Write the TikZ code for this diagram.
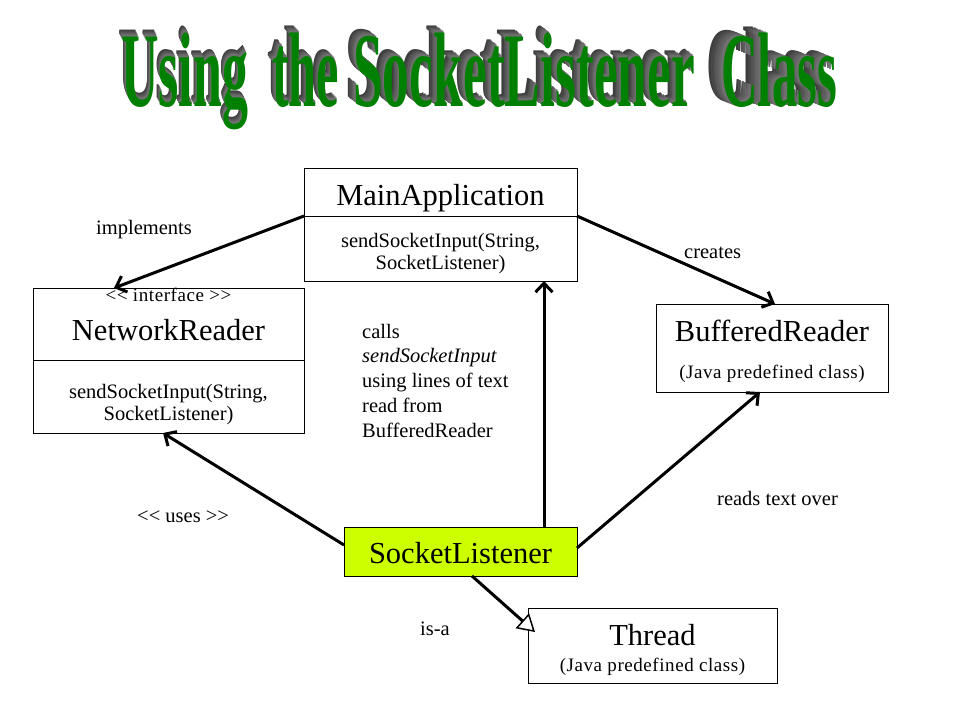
\documentclass[tikz,border=0pt]{standalone}
\usepackage{fontspec}
\setmainfont{Liberation Serif}
\newfontfamily\spfont{Liberation Serif}[LetterSpace=3]
\usetikzlibrary{arrows.meta,calc}
\definecolor{titlegreen}{RGB}{0,128,0}
\definecolor{slfill}{RGB}{204,255,0}
\tikzset{
 box/.style={draw=black, line width=1pt, inner sep=0pt, outer sep=0pt, anchor=north west},
 bigtxt/.style={inner sep=0pt, anchor=base, font=\fontsize{30.5}{36}\selectfont},
 medtxt/.style={inner sep=0pt, anchor=base, font=\fontsize{20.5}{24}\selectfont},
 smalltxt/.style={inner sep=0pt, anchor=base, font=\spfont\fontsize{19}{22}\selectfont},
 lbl/.style={inner sep=0pt, anchor=base west, font=\fontsize{20.5}{24}\selectfont},
 conn/.style={line width=3pt, -{Straight Barb[length=9pt,width=17pt]}},
 isa/.style={line width=3pt, -{Triangle[open,fill=white,length=17pt,width=20pt,line width=1.5pt]}},
 ttl/.style={inner sep=0pt, anchor=base west, font=\fontsize{106}{106}\selectfont\bfseries},
}
% one word of the 3-D title: #1 dx, #2 dy (up), #3 horizontal scale, #4 text
\newcommand\tword[4]{%
  \foreach \k in {6,5,...,1}{%
    \pgfmathsetmacro\ox{#1*\k/6}%
    \pgfmathsetmacro\oy{#2*\k/6}%
    \pgfmathtruncatemacro\shd{52+4*\k}%
    \rlap{\hspace{\ox pt}\raisebox{\oy pt}{\color{black!\shd}\scalebox{#3}[1]{#4}}}%
  }%
  \textcolor{titlegreen}{\scalebox{#3}[1]{#4}}%
}
\begin{document}
\begin{tikzpicture}[x=1pt,y=-1pt]
\useasboundingbox (0,0) rectangle (960,720);
% title
\node[ttl] (tUsing) at (121,106) {\tword{-3}{7}{0.49}{Using}};
\node[ttl] (tThe) at (272,106) {\tword{-5}{7}{0.475}{the}};
\node[ttl] (tSock) at (353,106) {\tword{-8}{7}{0.505}{SocketListener}};
\node[ttl] (tClass) at (721,106) {\tword{-15}{6}{0.48}{Class}};
% boxes
\node[box, minimum width=273pt, minimum height=113pt] (ma) at (304,168) {};
\draw[line width=1pt] ($(ma.north west)+(0,48)$) coordinate (madl) -- ($(ma.north east)+(0,48)$) coordinate (madr);
\node[bigtxt] (maname) at (440.5,205) {MainApplication};
\node[medtxt] (mam1) at (440.5,247) {sendSocketInput(String,};
\node[medtxt] (mam2) at (440.5,269) {SocketListener)};

\node[box, minimum width=271pt, minimum height=145pt] (nr) at (33,288) {};
\draw[line width=1pt] ($(nr.north west)+(0,72)$) coordinate (nrdl) -- ($(nr.north east)+(0,72)$) coordinate (nrdr);
\node[smalltxt] (nrif) at (168.5,301) {{<}{<} interface {>}{>}};
\node[bigtxt] (nrname) at (168.5,340) {NetworkReader};
\node[medtxt] (nrm1) at (168.5,398) {sendSocketInput(String,};
\node[medtxt] (nrm2) at (168.5,420) {SocketListener)};

\node[box, minimum width=232pt, minimum height=88pt] (br) at (656,304) {};
\node[bigtxt] (brname) at (772,341.5) {BufferedReader};
\node[smalltxt] (brsub) at (772,378) {(Java predefined class)};

\node[box, fill=slfill, minimum width=233pt, minimum height=49pt] (sl) at (344,527) {};
\node[bigtxt] (slname) at (460.5,563) {SocketListener};

\node[box, minimum width=249pt, minimum height=75pt] (th) at (528,608) {};
\node[bigtxt] (thname) at (652.5,645) {Thread};
\node[smalltxt] (thsub) at (652.5,671.5) {(Java predefined class)};

% connectors
\draw[conn] (madl) -- ($(nr.north west)+(81,0)$);
\draw[conn] (madr) -- ($(br.north west)+(119,0)$);
\draw[conn] ($(sl.north west)+(200,0)$) -- ($(ma.south west)+(240,0)$);
\draw[conn] ($(sl.north west)+(0,18)$) -- ($(nr.south west)+(130,0)$);
\draw[conn] ($(sl.north east)+(0,21)$) -- ($(br.south west)+(104,0)$);
\draw[isa] ($(sl.south west)+(128,0)$) -- ($(th.north west)+(7,24)$);

% labels
\node[lbl] (limpl) at (96,234) {implements};
\node[lbl] (lcreates) at (684,258) {creates};
\node[lbl] (lc1) at (362,338) {calls};
\node[lbl] (lc2) at (362,362) {\itshape sendSocketInput};
\node[lbl] (lc3) at (362,387) {using lines of text};
\node[lbl] (lc4) at (362,412) {read from};
\node[lbl] (lc5) at (362,437) {BufferedReader};
\node[lbl] (luses) at (137,522) {{<}{<} uses {>}{>}};
\node[lbl] (lreads) at (717,505) {reads text over};
\node[lbl] (lisa) at (420,635) {is-a};
\end{tikzpicture}
\end{document}
